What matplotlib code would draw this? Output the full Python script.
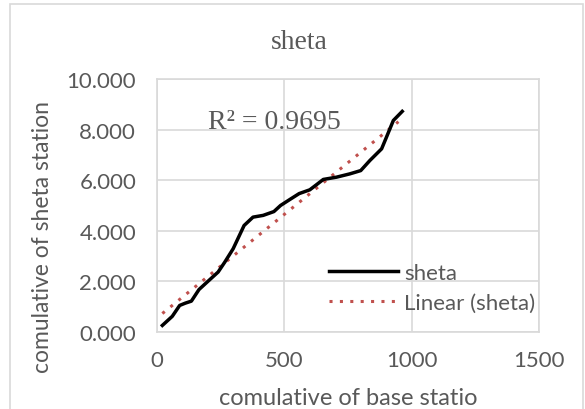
import numpy as np
import matplotlib.pyplot as plt
from matplotlib.patches import Rectangle

# cumulative values: base station (x) vs sheta station (y)
base_cum = [21, 60, 89, 111, 135, 165, 204, 240, 266, 299, 342, 377, 417,
            459, 485, 522, 558, 600, 626, 653, 705, 757, 800, 836, 882, 901,
            928, 963]
sheta_cum = [0.26, 0.62, 1.05, 1.14, 1.22, 1.68, 2.04, 2.37, 2.76, 3.29, 4.21,
             4.54, 4.61, 4.76, 5.00, 5.24, 5.47, 5.62, 5.82, 6.03, 6.12, 6.25,
             6.38, 6.78, 7.24, 7.70, 8.36, 8.72]
r2_text = "R² = 0.9695"

x = np.array(base_cum)
y = np.array(sheta_cum)
slope, icpt = np.polyfit(x, y, 1)

grey = "#595959"
grid_c = "#d9d9d9"
fs = 16

fig = plt.figure(figsize=(5.85, 4.1), dpi=100)
fig.patch.set_facecolor("white")
fig.patches.append(Rectangle((10 / 585, -0.1), 573 / 585, 1.1 - 5 / 410,
                             transform=fig.transFigure, fill=False,
                             edgecolor=grid_c, linewidth=1.2))

ax = fig.add_axes([157 / 585, 77 / 410, 382 / 585, 253 / 410])
ax.plot(x, y, color="black", linewidth=2.5, label="sheta", zorder=3)
xf = np.array([x.min(), x.max() - 15])
ax.plot(xf, slope * xf + icpt, color="#c0504d", linewidth=2.2,
        linestyle=(0, (1, 2.4)), label="Linear (sheta)", zorder=2)

ax.set_xlim(0, 1500)
ax.set_ylim(0, 10)
ax.set_xticks([0, 500, 1000, 1500])
ax.set_yticks([0, 2, 4, 6, 8, 10])
ax.set_yticklabels([f"{v:.3f}" for v in [0, 2, 4, 6, 8, 10]])
ax.grid(True, color=grid_c, linewidth=1.2)
ax.set_axisbelow(True)
for s in ax.spines.values():
    s.set_color(grid_c)
    s.set_linewidth(1.2)
ax.tick_params(length=0, labelsize=fs, labelcolor=grey, pad=15)
ax.tick_params(axis="x", pad=13)
for lab in ax.get_xticklabels() + ax.get_yticklabels():
    lab.set_family("Lato")

ax.set_xlabel("comulative of base statio", fontsize=17, color=grey,
              family="Lato", va="center")
ax.xaxis.set_label_coords(0.5, -0.26)
ax.set_ylabel("comulative of sheta station", fontsize=16.5, color=grey,
              family="Lato", va="center")
ax.yaxis.set_label_coords(-0.30, 0.38)

fig.text(299 / 585, 1 - 49 / 410, "sheta", fontsize=20, color=grey,
         family="Liberation Serif", ha="center", va="baseline")

ax.text(200, 8.05, r2_text, fontsize=20, color=grey,
        family="Liberation Serif", ha="left", va="baseline")

leg = ax.legend(loc="center left", bbox_to_anchor=(0.45, 0.175), frameon=False,
                prop={"family": "Lato", "size": fs}, handlelength=3.1,
                handletextpad=0.3, labelspacing=0.45, borderpad=0,
                borderaxespad=0)
for t in leg.get_texts():
    t.set_color(grey)

fig.savefig("out.png", dpi=100)
